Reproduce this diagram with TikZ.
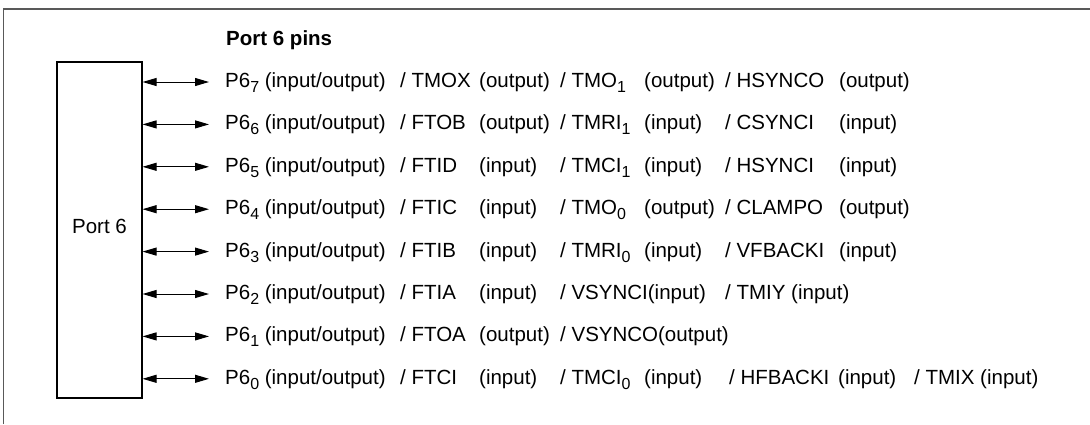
\documentclass[tikz,border=0pt]{standalone}
\usepackage{fontspec}
\setmainfont{Liberation Sans}
\usetikzlibrary{arrows.meta}
\newcommand{\pcol}[2]{\makebox[#1pt][l]{#2}}
\newcommand{\psub}[1]{\raisebox{-5pt}{\fontsize{16}{16}\selectfont #1}}
\newcommand{\pstart}[2]{\pcol{175}{P6\psub{#1} (input/output)}\pcol{79}{/ #2}}

\begin{document}
\begin{tikzpicture}[x=1pt, y=-1pt,
    frame/.style={black!65, line width=1.3pt},
    portbox/.style={draw, line width=1.1pt, minimum width=85pt,
                    minimum height=336pt, inner sep=0pt},
    pin/.style={anchor=base west, inner sep=0pt,
                font=\fontsize{20.5}{24}\selectfont},
    io/.style={>={Triangle[length=14pt,width=8pt]}, <->, line width=1pt}
  ]
  \useasboundingbox (0,0) rectangle (1090,424);
  \draw[frame] (3.5,424) -- (3.5,9) -- (1090,9);

  \node[portbox] (port) at (99.5,230) {};
  \node[pin, anchor=base] (portlbl) at ([yshift=-3pt]port.center) {Port 6};
  \node[pin, font=\fontsize{20.5}{24}\selectfont\bfseries] (title) at (226,45) {Port 6 pins};

  % one arrow end per pin row
  \foreach \i in {0,...,7} {
    \coordinate (a\i) at (209,{378.8-42.4*\i});
  }

  \node[pin] (p7) at ([xshift=16pt,yshift=-5.5pt]a7) {\pstart{7}{TMOX}\pcol{81}{(output)}\pcol{84}{/ TMO\psub{1}}\pcol{81}{(output)}\pcol{114}{/ HSYNCO}(output)};
  \node[pin] (p6) at ([xshift=16pt,yshift=-5.5pt]a6) {\pstart{6}{FTOB}\pcol{81}{(output)}\pcol{84}{/ TMRI\psub{1}}\pcol{81}{(input)}\pcol{114}{/ CSYNCI}(input)};
  \node[pin] (p5) at ([xshift=16pt,yshift=-5.5pt]a5) {\pstart{5}{FTID}\pcol{81}{(input)}\pcol{84}{/ TMCI\psub{1}}\pcol{81}{(input)}\pcol{114}{/ HSYNCI}(input)};
  \node[pin] (p4) at ([xshift=16pt,yshift=-5.5pt]a4) {\pstart{4}{FTIC}\pcol{81}{(input)}\pcol{84}{/ TMO\psub{0}}\pcol{81}{(output)}\pcol{114}{/ CLAMPO}(output)};
  \node[pin] (p3) at ([xshift=16pt,yshift=-5.5pt]a3) {\pstart{3}{FTIB}\pcol{81}{(input)}\pcol{84}{/ TMRI\psub{0}}\pcol{81}{(input)}\pcol{114}{/ VFBACKI}(input)};
  \node[pin] (p2) at ([xshift=16pt,yshift=-5.5pt]a2) {\pstart{2}{FTIA}\pcol{81}{(input)}\pcol{165}{/ VSYNCI(input)}/ TMIY (input)};
  \node[pin] (p1) at ([xshift=16pt,yshift=-5.5pt]a1) {\pstart{1}{FTOA}\pcol{81}{(output)}/ VSYNCO(output)};
  \node[pin] (p0) at ([xshift=16pt,yshift=-5.5pt]a0) {\pstart{0}{FTCI}\pcol{81}{(input)}\pcol{84}{/ TMCI\psub{0}}\pcol{85}{(input)}\pcol{109}{/ HFBACKI}\pcol{76}{(input)}/ TMIX (input)};

  \foreach \i in {0,...,7} {
    \draw[io] (port.east |- a\i) -- (a\i);
  }
\end{tikzpicture}
\end{document}
